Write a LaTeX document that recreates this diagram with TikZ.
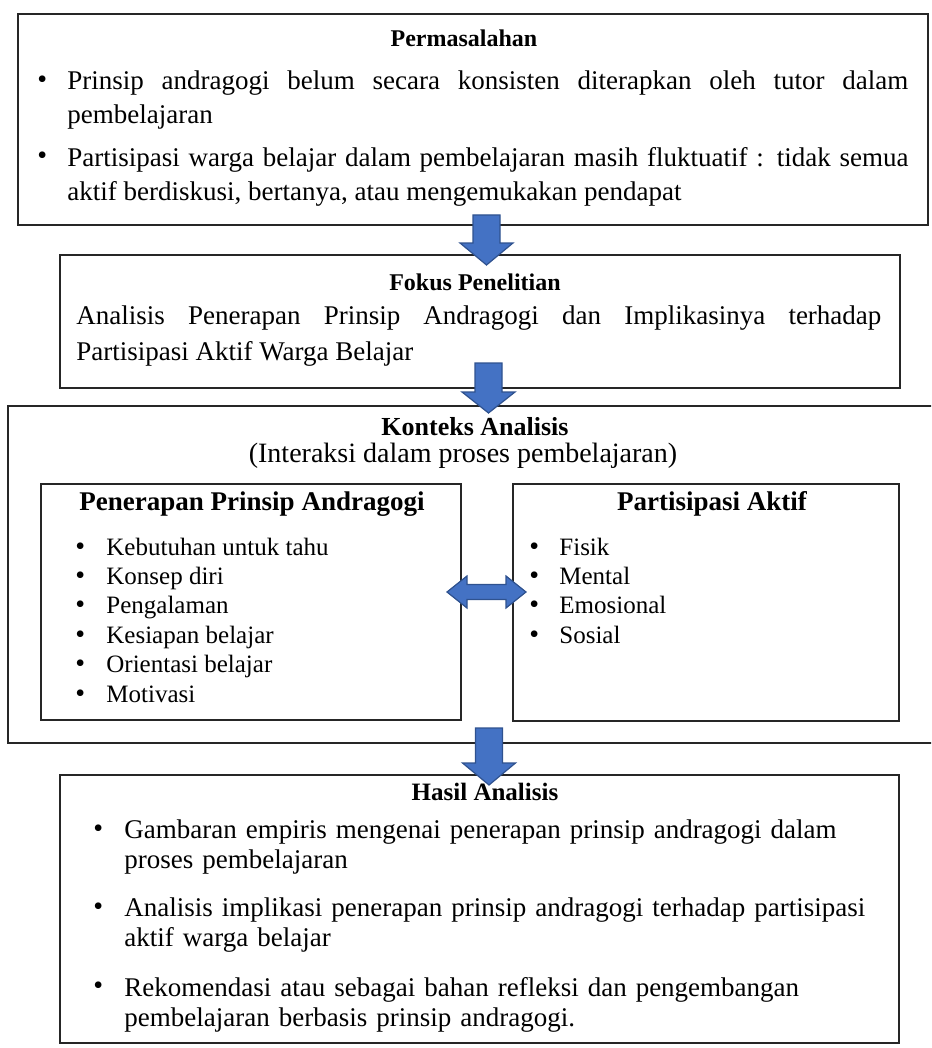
\documentclass[tikz,border=0pt]{standalone}
\usepackage{fontspec}
\setmainfont{Liberation Serif}

\definecolor{arrowblue}{RGB}{68,114,196}
\definecolor{arrowedge}{RGB}{47,82,143}

\tikzset{
  box/.style={draw=black!85, line width=0.8pt, inner sep=0pt, outer sep=0pt},
  title/.style={anchor=base, inner sep=0pt, font=\bfseries\fontsize{12}{14}\selectfont},
  plain/.style={anchor=base, inner sep=0pt, font=\fontsize{13.5}{15}\selectfont},
  dot/.style={anchor=base west, inner sep=0pt, font=\fontsize{14}{14}\selectfont},
  itemline/.style={anchor=base west, inner sep=0pt, font=\fontsize{12.5}{14}\selectfont},
  bodytext/.style={anchor=north west, inner sep=0pt, align=justify, font=\fontsize{13.5}{17}\selectfont},
  blockarrow/.style={fill=arrowblue, draw=arrowedge, line width=0.6pt, line join=miter}
}

\begin{document}
\begin{tikzpicture}[x=0.5pt,y=-0.5pt]
\useasboundingbox (0,0) rectangle (931,1048);
\clip (0,0) rectangle (931,1048);

% boxes
\node[box, minimum width=455pt, minimum height=105.5pt] (perm) at (473,119.5) {};
\node[box, minimum width=420pt, minimum height=66.5pt] (fokus) at (480,321.5) {};
\node[box, minimum width=476pt, minimum height=168.5pt] (konteks) at (484,574.5) {};
\node[box, minimum width=210pt, minimum height=118pt] (andra) at (251,602) {};
\node[box, minimum width=193pt, minimum height=118.5pt] (aktif) at (706,602.5) {};
\node[box, minimum width=419.5pt, minimum height=134pt] (hasil) at (479.5,909) {};

% titles
\node[title] (permtitle) at (464,47) {Permasalahan};
\node[title] (fokustitle) at (475,290) {Fokus Penelitian};
\node[title, font=\bfseries\fontsize{13}{15}\selectfont] (kontekstitle) at (475,435) {Konteks Analisis};
\node[plain, font=\fontsize{14}{16}\selectfont] (kontekssub) at (463,462) {(Interaksi dalam proses pembelajaran)};
\node[title, font=\bfseries\fontsize{13.5}{15}\selectfont] (andratitle) at (252,510) {Penerapan Prinsip Andragogi};
\node[title, font=\bfseries\fontsize{13.5}{15}\selectfont] (aktiftitle) at (712,510) {Partisipasi Aktif};
\node[title, font=\bfseries\fontsize{12.5}{15}\selectfont] (hasiltitle) at (485,800) {Hasil Analisis};

% permasalahan
\node[dot] (permdot1) at (37,89) {\textbullet};
\node[bodytext, text width=420.5pt] (permitem1) at (67,70.6)
  {Prinsip andragogi belum secara konsisten diterapkan oleh tutor dalam\linebreak pembelajaran};
\node[dot] (permdot2) at (37,165) {\textbullet};
\node[bodytext, text width=420.5pt] (permitem2) at (67,146.6)
  {Partisipasi warga belajar dalam pembelajaran masih fluktuatif : tidak semua\linebreak aktif berdiskusi, bertanya, atau mengemukakan pendapat};

% fokus
\node[bodytext, text width=402.5pt, font=\fontsize{13.5}{18}\selectfont] (fokustext) at (76,305.6)
  {Analisis Penerapan Prinsip Andragogi dan Implikasinya terhadap\linebreak Partisipasi Aktif Warga Belajar};

% konteks lists
\foreach \txt [count=\i] in {Kebutuhan untuk tahu, Konsep diri, Pengalaman, Kesiapan belajar, Orientasi belajar, Motivasi} {
  \node[dot] (andradot\i) at (75,{555+29.4*(\i-1)}) {\textbullet};
  \node[itemline] (andraitem\i) at (106,{555+29.4*(\i-1)}) {\txt};
}
\foreach \txt [count=\i] in {Fisik, Mental, Emosional, Sosial} {
  \node[dot] (aktifdot\i) at (529,{555+29.4*(\i-1)}) {\textbullet};
  \node[itemline] (aktifitem\i) at (559,{555+29.4*(\i-1)}) {\txt};
}

% hasil
\node[dot] (hasildot1) at (93,837) {\textbullet};
\node[bodytext, align=left, text width=395pt, font=\fontsize{13.5}{15}\selectfont] (hasilitem1) at (124,819.6)
  {Gambaran empiris mengenai penerapan prinsip andragogi dalam\\ proses pembelajaran};
\node[dot] (hasildot2) at (93,915) {\textbullet};
\node[bodytext, align=left, text width=395pt, font=\fontsize{13.5}{15}\selectfont] (hasilitem2) at (124,897.6)
  {Analisis implikasi penerapan prinsip andragogi terhadap partisipasi\\ aktif warga belajar};
\node[dot] (hasildot3) at (93,994) {\textbullet};
\node[bodytext, align=left, text width=395pt, font=\fontsize{13.5}{15}\selectfont] (hasilitem3) at (124,976.6)
  {Rekomendasi atau sebagai bahan refleksi dan pengembangan\\ pembelajaran berbasis prinsip andragogi.};

% arrows
\foreach \ax/\ay/\sl/\hl in {486.5/215/28/22, 488.5/363/29/21, 489/728/35/22}
  \draw[blockarrow] (\ax,\ay) ++(-13.5,0) -- ++(27,0) -- ++(0,\sl) -- ++(13,0)
    -- ++(-26.5,\hl) -- ++(-26.5,-\hl) -- ++(13,0) -- cycle;
\coordinate (link) at (486.5,592);
\draw[blockarrow] (link) ++(-39.5,0) -- ++(20,-16) -- ++(0,8.5) -- ++(39,0) -- ++(0,-8.5)
  -- ++(20,16) -- ++(-20,16) -- ++(0,-8.5) -- ++(-39,0) -- ++(0,8.5) -- cycle;
\end{tikzpicture}
\end{document}
